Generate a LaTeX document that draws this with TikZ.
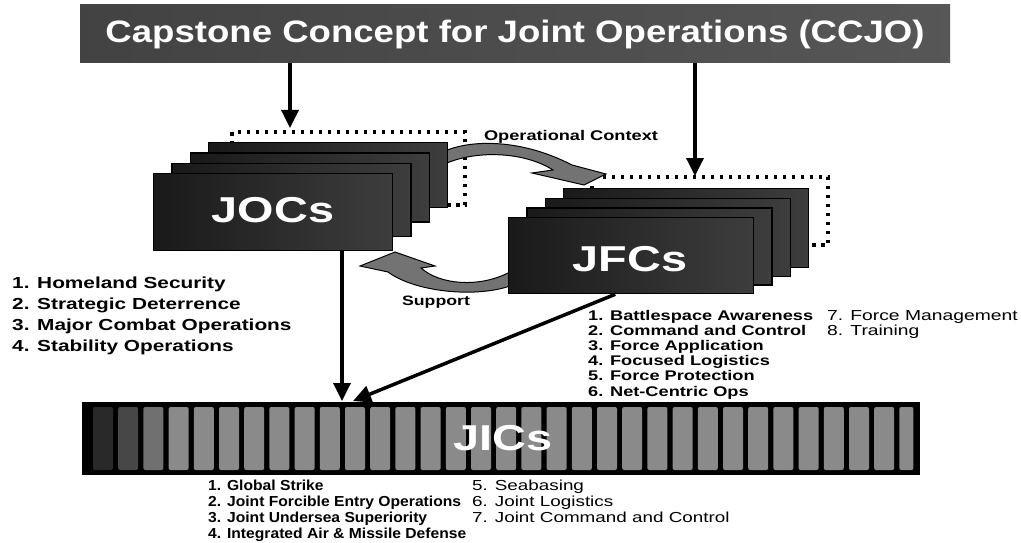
\documentclass[tikz,border=0pt]{standalone}
\usepackage{fontspec}
\setmainfont{Liberation Sans}
\newfontfamily\widefont[FakeStretch=1.3]{Liberation Sans}
\newfontfamily\wideregfont[FakeStretch=1.33]{Liberation Sans}
\newfontfamily\narrowfont[FakeStretch=1.08]{Liberation Sans}
\newfontfamily\bannerfont[FakeStretch=1.18]{Liberation Sans}
\usetikzlibrary{arrows.meta}

\tikzset{
  stackbox/.style={draw=black, line width=1.2pt, left color=black!90, middle color=black!56,
    right color=black!76, inner sep=0pt, anchor=north west},
  dotbox/.style={black, line width=3.5pt, dash pattern=on 3.5pt off 5.5pt},
  bigarrow/.style={line width=3.5pt, -{Triangle[length=18pt,width=17pt]}},
  swoop/.style={fill=black!55, draw=black, line width=1pt},
  boxlabel/.style={text=white, inner sep=0pt, font=\widefont\bfseries\fontsize{36}{36}\selectfont},
  arclabel/.style={anchor=base, inner sep=0pt, font=\widefont\bfseries\fontsize{14}{14}\selectfont},
  ocitem/.style={anchor=base west, inner sep=0pt, font=\widefont\bfseries\fontsize{16}{16}\selectfont},
  fcitem/.style={anchor=base west, inner sep=0pt, font=\widefont\bfseries\fontsize{14}{14}\selectfont},
  fcitemreg/.style={anchor=base west, inner sep=0pt, font=\wideregfont\fontsize{14.5}{14.5}\selectfont},
  icitem/.style={anchor=base west, inner sep=0pt, font=\narrowfont\bfseries\fontsize{14.5}{14.5}\selectfont},
  icitemreg/.style={anchor=base west, inner sep=0pt, font=\widefont\fontsize{14.5}{14.5}\selectfont},
}

\begin{document}
\begin{tikzpicture}[x=1pt, y=-1pt]
\useasboundingbox[fill=white] (0,0) rectangle (1021,543);

% --- capstone banner
\node[left color=black!74, right color=black!66, minimum width=870pt, minimum height=58pt,
      inner sep=0pt, text=white, font=\bannerfont\bfseries\fontsize{31}{31}\selectfont]
  (ccjo) at (515,34) {Capstone Concept for Joint Operations (CCJO)};

% --- dotted frames behind the concept stacks
\draw[dotbox] (232,132) rectangle (465,205);
\draw[dotbox] (592,177) rectangle (828,245);

% --- curved exchange arrows between JOCs and JFCs
\path[swoop] (445,151) .. controls (470,140) and (520,138) .. (572,165)
  -- (606,174) -- (584,185) -- (532,173) -- (553,170)
  .. controls (525,152) and (478,150) .. (447,163) -- cycle;
\path[swoop] (360,266) -- (395,252) -- (435,266) -- (421,268)
  .. controls (440,285) and (480,288) .. (510,272) -- (510,286)
  .. controls (475,298) and (415,292) .. (388,272) -- cycle;
\node[arclabel] (opctx) at (571,140) {Operational Context};
\node[arclabel, font=\widefont\bfseries\fontsize{13.6}{13.6}\selectfont] (supp) at (436,305) {Support};

% --- JOCs stack
\foreach \i in {0,...,3} {
  \pgfmathsetmacro\bx{208-18.3*\i}
  \pgfmathsetmacro\by{142+10.3*\i}
  \pgfmathsetmacro\bh{65+4*\i}
  \node[stackbox, minimum width=239pt, minimum height=\bh pt] (joc\i) at (\bx,\by) {};
}
\node[boxlabel] (jocs) at (273,210) {JOCs};

% --- JFCs stack
\foreach \i in {0,...,3} {
  \pgfmathsetmacro\bx{563-18.3*\i}
  \pgfmathsetmacro\by{188+9.7*\i}
  \pgfmathsetmacro\bh{79-1*\i}
  \node[stackbox, minimum width=245pt, minimum height=\bh pt] (jfc\i) at (\bx,\by) {};
}
\node[boxlabel] (jfcs) at (630,259) {JFCs};

% --- JICs bar with its row of capability cells
\node[fill=black, minimum width=838pt, minimum height=73pt, inner sep=0pt] (jicbar) at (501,438.5) {};
\foreach \i in {0,...,32} {
  \pgfmathsetmacro\sx{93+25.2*\i}
  \pgfmathsetmacro\sw{\i==32 ? 14 : 20}
  \pgfmathtruncatemacro\sg{\i==0 ? 84 : (\i==1 ? 72 : (\i==2 ? 56 : 46))}
  \fill[black!\sg, rounded corners=2pt] (\sx,407) rectangle ++(\sw,63);
}
\node[boxlabel] (jics) at (503,438) {JICs};

% --- connectors
\coordinate (jocsIn) at (290,128);
\coordinate (jfcsIn) at (695,176);
\coordinate (jicsInA) at (342,401);
\coordinate (jicsInB) at (353,401);
\draw[bigarrow] (ccjo.south -| jocsIn) -- (jocsIn);
\draw[bigarrow] (ccjo.south -| jfcsIn) -- (jfcsIn);
\draw[bigarrow] (joc3.south -| jicsInA) -- (jicsInA);
\draw[bigarrow] ([xshift=-16pt]jfc3.south) -- (jicsInB);

% --- operating concepts
\foreach \t [count=\k] in {1. Homeland Security, 2. Strategic Deterrence,
    3. Major Combat Operations, 4. Stability Operations}
  \node[ocitem] (oc\k) at (12,{288+21.2*(\k-1)}) {\t};

% --- functional concepts
\foreach \t [count=\k] in {1. Battlespace Awareness, 2. Command and Control,
    3. Force Application, 4. Focused Logistics, 5. Force Protection, 6. Net-Centric Ops}
  \node[fcitem] (fc\k) at (588,{320+15.2*(\k-1)}) {\t};
\node[fcitemreg] (fc7) at (827,320) {7. Force Management};
\node[fcitemreg] (fc8) at (827,335.2) {8. Training};

% --- integrating concepts
\foreach \t [count=\k] in {1. Global Strike, 2. Joint Forcible Entry Operations,
    3. Joint Undersea Superiority, 4. Integrated Air \& Missile Defense}
  \node[icitem] (ic\k) at (208,{490+16*(\k-1)}) {\t};
\foreach \t [count=\k from 5] in {5. Seabasing, 6. Joint Logistics, 7. Joint Command and Control}
  \node[icitemreg] (ic\k) at (472,{490+16*(\k-5)}) {\t};
\end{tikzpicture}
\end{document}
